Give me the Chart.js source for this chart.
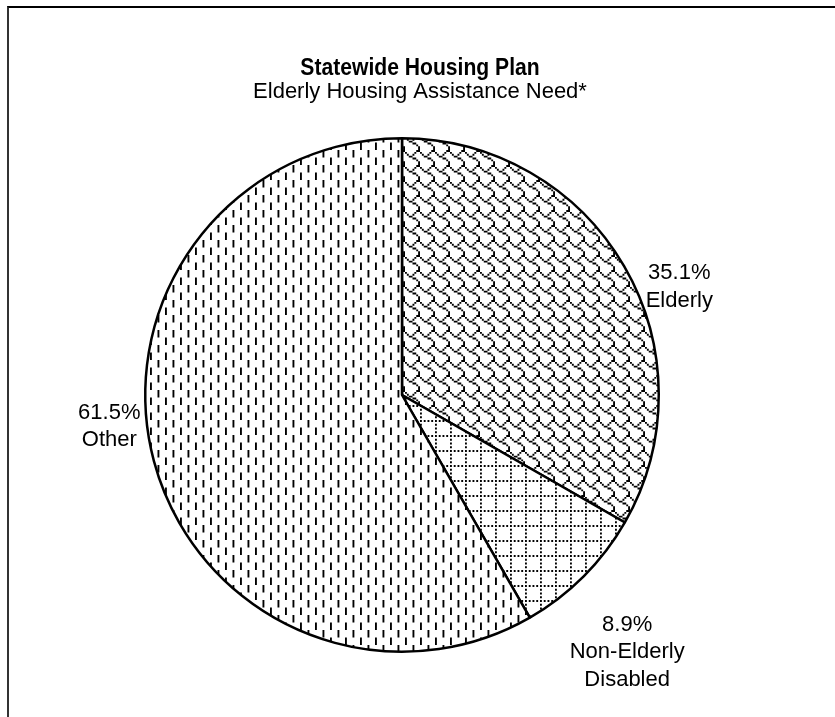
<!DOCTYPE html>
<html>
<head>
<meta charset="utf-8">
<script src="https://cdn.jsdelivr.net/npm/chart.js@4/dist/chart.umd.min.js"></script>
<style>
  html, body { margin: 0; padding: 0; background: #fff; }
  #wrap { position: relative; width: 835px; height: 717px; overflow: hidden; }
  #c { position: absolute; left: 0; top: 0; }
  #frame { position: absolute; left: 7px; top: 6px; right: 0; bottom: 0;
           border-top: 2px solid #000; border-left: 2px solid #333; pointer-events: none; }
</style>
</head>
<body>
<div id="wrap">
  <canvas id="c" width="835" height="717"></canvas>
  <div id="frame"></div>
</div>
<script>
// Housing assistance need, share of households (%)
const categories = ['Elderly', 'Non-Elderly Disabled', 'Other'];
const labelLines = [['Elderly'], ['Non-Elderly', 'Disabled'], ['Other']];
const shares = [35.1, 8.9, 61.5];

const titleText = 'Statewide Housing Plan';
const subtitleText = 'Elderly Housing Assistance Need*';

// 8x8 hatch bitmaps, scaled up into repeating fills
const HATCH = {
  shingle:        [0x03, 0x84, 0x48, 0x30, 0x0c, 0x02, 0x01, 0x01],
  dottedGrid:     [0xaa, 0x00, 0x80, 0x00, 0x80, 0x00, 0x80, 0x00],
  dashedVertical: [0x08, 0x08, 0x08, 0x08, 0x80, 0x80, 0x80, 0x80]
};

function hatchPattern(bits, tile) {
  const cv = document.createElement('canvas');
  cv.width = tile; cv.height = tile;
  const g = cv.getContext('2d');
  g.fillStyle = '#fff';
  g.fillRect(0, 0, tile, tile);
  const s = tile / 8;
  g.beginPath();
  bits.forEach((row, y) => {
    for (let x = 0; x < 8; x++) {
      if (row & (0x80 >> x)) g.rect(x * s, y * s, s, s);
    }
  });
  g.fillStyle = '#000';
  g.fill();
  return g.createPattern(cv, 'repeat');
}

const TILE = 15;
const fills = [
  hatchPattern(HATCH.shingle, TILE),
  hatchPattern(HATCH.dottedGrid, TILE),
  hatchPattern(HATCH.dashedVertical, TILE)
];

const FONT = '"Liberation Sans", Arial, Helvetica, sans-serif';

// Heading drawn above the pie; the bold title is set slightly condensed
const heading = {
  id: 'heading',
  afterDraw(chart, args, opts) {
    const ctx = chart.ctx;
    ctx.save();
    ctx.fillStyle = '#000';
    ctx.textAlign = 'center';
    ctx.textBaseline = 'alphabetic';
    ctx.save();
    ctx.translate(opts.x, opts.titleBaseline);
    ctx.scale(opts.titleCondense, 1);
    ctx.font = 'bold ' + opts.titleSize + 'px ' + FONT;
    ctx.fillText(titleText, 0, 0);
    ctx.restore();
    ctx.font = opts.subtitleSize + 'px ' + FONT;
    ctx.fillText(subtitleText, opts.x, opts.subtitleBaseline);
    ctx.restore();
  }
};

// Percentage + category text placed outside each slice
const sliceLabels = {
  id: 'sliceLabels',
  afterDatasetsDraw(chart, args, opts) {
    const meta = chart.getDatasetMeta(0);
    const ctx = chart.ctx;
    ctx.save();
    ctx.font = opts.size + 'px ' + FONT;
    ctx.fillStyle = '#000';
    ctx.textAlign = 'center';
    ctx.textBaseline = 'alphabetic';
    meta.data.forEach((arc, i) => {
      const p = arc.getProps(['x', 'y', 'outerRadius'], true);
      const [fx, fy] = opts.anchors[i];
      const lines = [shares[i].toFixed(1) + '%', ...labelLines[i]];
      const cx = p.x + fx * p.outerRadius;
      const cy = p.y + fy * p.outerRadius;
      const first = cy - (lines.length - 1) * opts.lineHeight / 2 + opts.size * 0.36;
      lines.forEach((t, k) => ctx.fillText(t, cx, first + k * opts.lineHeight));
    });
    ctx.restore();
  }
};

new Chart(document.getElementById('c'), {
  type: 'pie',
  data: {
    labels: categories,
    datasets: [{
      data: shares,
      backgroundColor: fills,
      borderColor: '#000',
      borderWidth: 2.5
    }]
  },
  options: {
    responsive: false,
    animation: false,
    events: [],
    layout: { padding: { top: 137, left: 144, right: 175, bottom: 64 } },
    plugins: {
      legend: { display: false },
      tooltip: { enabled: false },
      heading: { x: 420, titleSize: 24, titleCondense: 0.88, subtitleSize: 22, titleBaseline: 75, subtitleBaseline: 98 },
      sliceLabels: {
        size: 22,
        lineHeight: 27.5,
        anchors: [[1.08, -0.429], [0.877, 0.995], [-1.140, 0.116]]
      }
    }
  },
  plugins: [heading, sliceLabels]
});
</script>
</body>
</html>
